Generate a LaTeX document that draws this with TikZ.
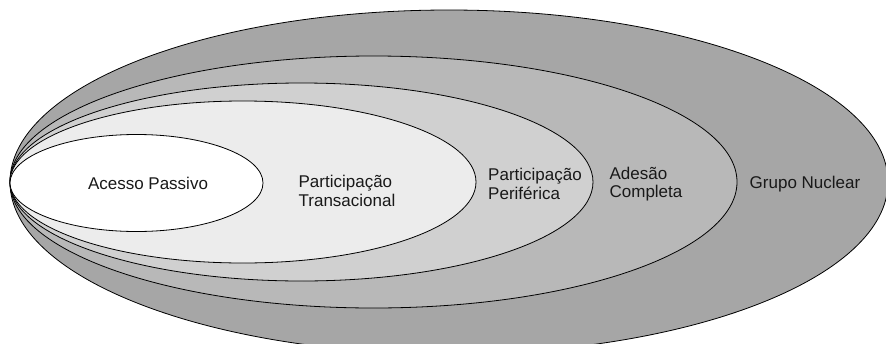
\documentclass[tikz,border=0pt]{standalone}
\usepackage{fontspec}
\setmainfont{Liberation Sans}
\definecolor{nuclearfill}{HTML}{A6A6A6}
\definecolor{completafill}{HTML}{B8B8B8}
\definecolor{perifericafill}{HTML}{D0D0D0}
\definecolor{transacionalfill}{HTML}{ECECEC}
\begin{document}
\begin{tikzpicture}[
    x=1pt, y=-1pt,
    every node/.style={align=left, text=black!90, font=\fontsize{17}{18.5}\selectfont},
    ring/.style={draw=black, line width=0.8pt},
    ]
\clip (0,0) rectangle (886,343);
\fill[white] (0,0) rectangle (886,343);
\draw[ring, fill=nuclearfill] (449,182) ellipse [x radius=439, y radius=172];
\draw[ring, fill=completafill] (373.5,182) ellipse [x radius=363.5, y radius=126];
\draw[ring, fill=perifericafill] (301.5,182) ellipse [x radius=291.5, y radius=99];
\draw[ring, fill=transacionalfill] (243,182) ellipse [x radius=233, y radius=81];
\draw[ring, fill=white] (136.5,183) ellipse [x radius=126.5, y radius=48.5];
\node (passivo) at (148,183) {Acesso Passivo};
\node (transacional) at (347,191) {Participação\\Transacional};
\node (periferica) at (535,184) {Participação\\Periférica};
\node (completa) at (646,184) {Adesão\\Completa};
\node (nuclear) at (805,184) {Grupo Nuclear};
\end{tikzpicture}
\end{document}
